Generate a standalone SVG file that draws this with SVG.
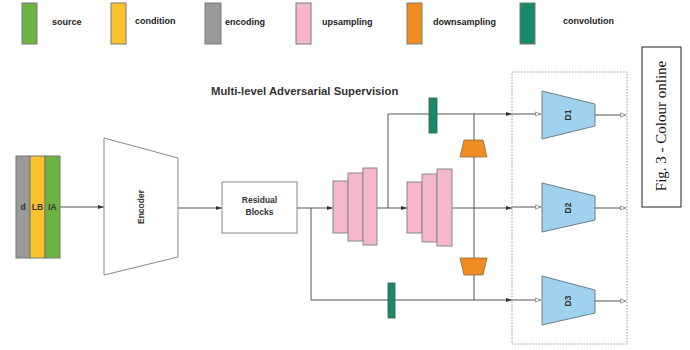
<svg xmlns="http://www.w3.org/2000/svg" width="690" height="350" viewBox="0 0 690 350">
<style>
.lg{stroke:#7a7a7a;stroke-width:1}
.lt{font-family:"Liberation Sans",Arial,sans-serif;font-weight:bold;font-size:9px;fill:#222}
.ln{stroke:#555;stroke-width:1;fill:none}
.pk{fill:#f5b7c9;stroke:#888;stroke-width:1}
.or{fill:#ef8d22;stroke:#8a6a40;stroke-width:0.8}
.tl{fill:#178a6c;stroke:#3a5a4a;stroke-width:0.8}
.bl{fill:#9fd2ef;stroke:#6a7f8a;stroke-width:1}
.lbl{font-family:"Liberation Sans",Arial,sans-serif;font-weight:bold;font-size:8.5px;fill:#333}
</style>
<defs>
<marker id="a" viewBox="0 0 10 10" refX="10" refY="5" markerWidth="6" markerHeight="6" orient="auto" markerUnits="userSpaceOnUse"><path d="M0,1.5 L10,5 L0,8.5 Z" fill="#333"/></marker>
<marker id="o" viewBox="0 0 10 10" refX="10" refY="5" markerWidth="6" markerHeight="6" orient="auto" markerUnits="userSpaceOnUse"><path d="M1,1.5 L9,5 L1,8.5 Z" fill="#fff" stroke="#777" stroke-width="1.2"/></marker>
</defs>
<rect width="690" height="350" fill="#fff"/>
<g id="legend">
<rect class="lg" x="22" y="3" width="15" height="41" fill="#6db340"/>
<text class="lt" x="52" y="25">source</text>
<rect class="lg" x="111" y="3" width="15" height="41" fill="#fbc22e"/>
<text class="lt" x="135" y="24">condition</text>
<rect class="lg" x="205" y="3" width="16" height="41" fill="#9a9a9a"/>
<text class="lt" x="225" y="25">encoding</text>
<rect class="lg" x="296" y="3" width="15" height="41" fill="#f5b7c9"/>
<text class="lt" x="322" y="25">upsampling</text>
<rect class="lg" x="407" y="3" width="15" height="41" fill="#ef8d22"/>
<text class="lt" x="433" y="25">downsampling</text>
<rect class="lg" x="520" y="3" width="15" height="41" fill="#178a6c"/>
<text class="lt" x="563" y="24">convolution</text>
</g>
<g id="fig-caption">
<rect x="642" y="47" width="39" height="160" fill="#fff" stroke="#222" stroke-width="1"/>
<text transform="translate(666,126) rotate(-90)" text-anchor="middle" font-family="'Liberation Serif','Times New Roman',serif" font-size="15" fill="#111">Fig. 3 - Colour online</text>
</g>
<text id="title" x="211" y="95" font-family="'Liberation Sans',Arial,sans-serif" font-weight="bold" font-size="11.3" fill="#333">Multi-level Adversarial Supervision</text>
<g id="connectors">
<line class="ln" x1="60" y1="207" x2="104" y2="207" marker-end="url(#a)"/>
<line class="ln" x1="178" y1="208" x2="222" y2="208" marker-end="url(#a)"/>
<line class="ln" x1="297" y1="208" x2="333" y2="208" marker-end="url(#a)"/>
<polyline class="ln" points="311,208 311,300 512,300" marker-end="url(#a)"/>
<line class="ln" x1="377" y1="208" x2="407" y2="208" marker-end="url(#a)"/>
<polyline class="ln" points="388,208 388,114 512,114" marker-end="url(#a)"/>
<line class="ln" x1="452" y1="208" x2="512" y2="208" marker-end="url(#a)"/>
<line class="ln" x1="474" y1="114" x2="474" y2="300"/>
<line class="ln" x1="512" y1="114" x2="541" y2="114" marker-end="url(#o)"/>
<line class="ln" x1="512" y1="207" x2="541" y2="207" marker-end="url(#o)"/>
<line class="ln" x1="512" y1="300" x2="541" y2="300" marker-end="url(#o)"/>
<line class="ln" x1="595" y1="115" x2="626" y2="115" marker-end="url(#o)"/>
<line class="ln" x1="595" y1="208" x2="626" y2="208" marker-end="url(#o)"/>
<line class="ln" x1="595" y1="301" x2="626" y2="301" marker-end="url(#o)"/>
</g>
<g id="input">
<rect x="16" y="156" width="14" height="102" fill="#9a9a9a" stroke="#777"/>
<rect x="30" y="156" width="15" height="102" fill="#fbc22e" stroke="#777"/>
<rect x="45" y="156" width="15" height="102" fill="#6db340" stroke="#777"/>
<text class="lbl" x="23" y="210" text-anchor="middle">d</text>
<text class="lbl" x="37.5" y="210" text-anchor="middle">LB</text>
<text class="lbl" x="52.5" y="210" text-anchor="middle">IA</text>
</g>
<g id="encoder">
<polygon points="104,138 178,158 178,257 104,275" fill="#fff" stroke="#888" stroke-width="1"/>
<text class="lbl" transform="translate(144,207) rotate(-90)" text-anchor="middle">Encoder</text>
</g>
<g id="residual">
<rect x="222" y="182" width="75" height="51" fill="#fff" stroke="#888" stroke-width="1"/>
<text class="lbl" x="259.5" y="203" text-anchor="middle" font-size="9">Residual</text>
<text class="lbl" x="259.5" y="215" text-anchor="middle" font-size="9">Blocks</text>
</g>
<g id="upsampling1">
<rect class="pk" x="333" y="181" width="15" height="52"/>
<rect class="pk" x="348" y="173" width="15" height="68"/>
<rect class="pk" x="363" y="168" width="14" height="77"/>
</g>
<g id="upsampling2">
<rect class="pk" x="407" y="182" width="15" height="51"/>
<rect class="pk" x="422" y="174" width="15" height="68"/>
<rect class="pk" x="437" y="169" width="15" height="77"/>
</g>
<g id="conv-top"><rect class="tl" x="429" y="98" width="8" height="35"/></g>
<g id="conv-bottom"><rect class="tl" x="388" y="283" width="7" height="35"/></g>
<g id="down-top"><polygon class="or" points="464,140 483,140 487,157 460,157"/></g>
<g id="down-bottom"><polygon class="or" points="460,258 487,258 483,275 464,275"/></g>
<g id="disc-frame"><rect x="512" y="72" width="115" height="272" fill="none" stroke="#999" stroke-width="1" stroke-dasharray="1.5,1.5"/></g>
<g id="D1">
<polygon class="bl" points="542,91 595,104 595,126 542,139"/>
<text class="lbl" font-size="7.5" transform="translate(571,115) rotate(-90)" text-anchor="middle">D1</text>
</g>
<g id="D2">
<polygon class="bl" points="542,183 595,196 595,220 542,232"/>
<text class="lbl" font-size="7.5" transform="translate(571,208) rotate(-90)" text-anchor="middle">D2</text>
</g>
<g id="D3">
<polygon class="bl" points="542,276 595,290 595,313 542,325"/>
<text class="lbl" font-size="7.5" transform="translate(571,301) rotate(-90)" text-anchor="middle">D3</text>
</g>
</svg>
